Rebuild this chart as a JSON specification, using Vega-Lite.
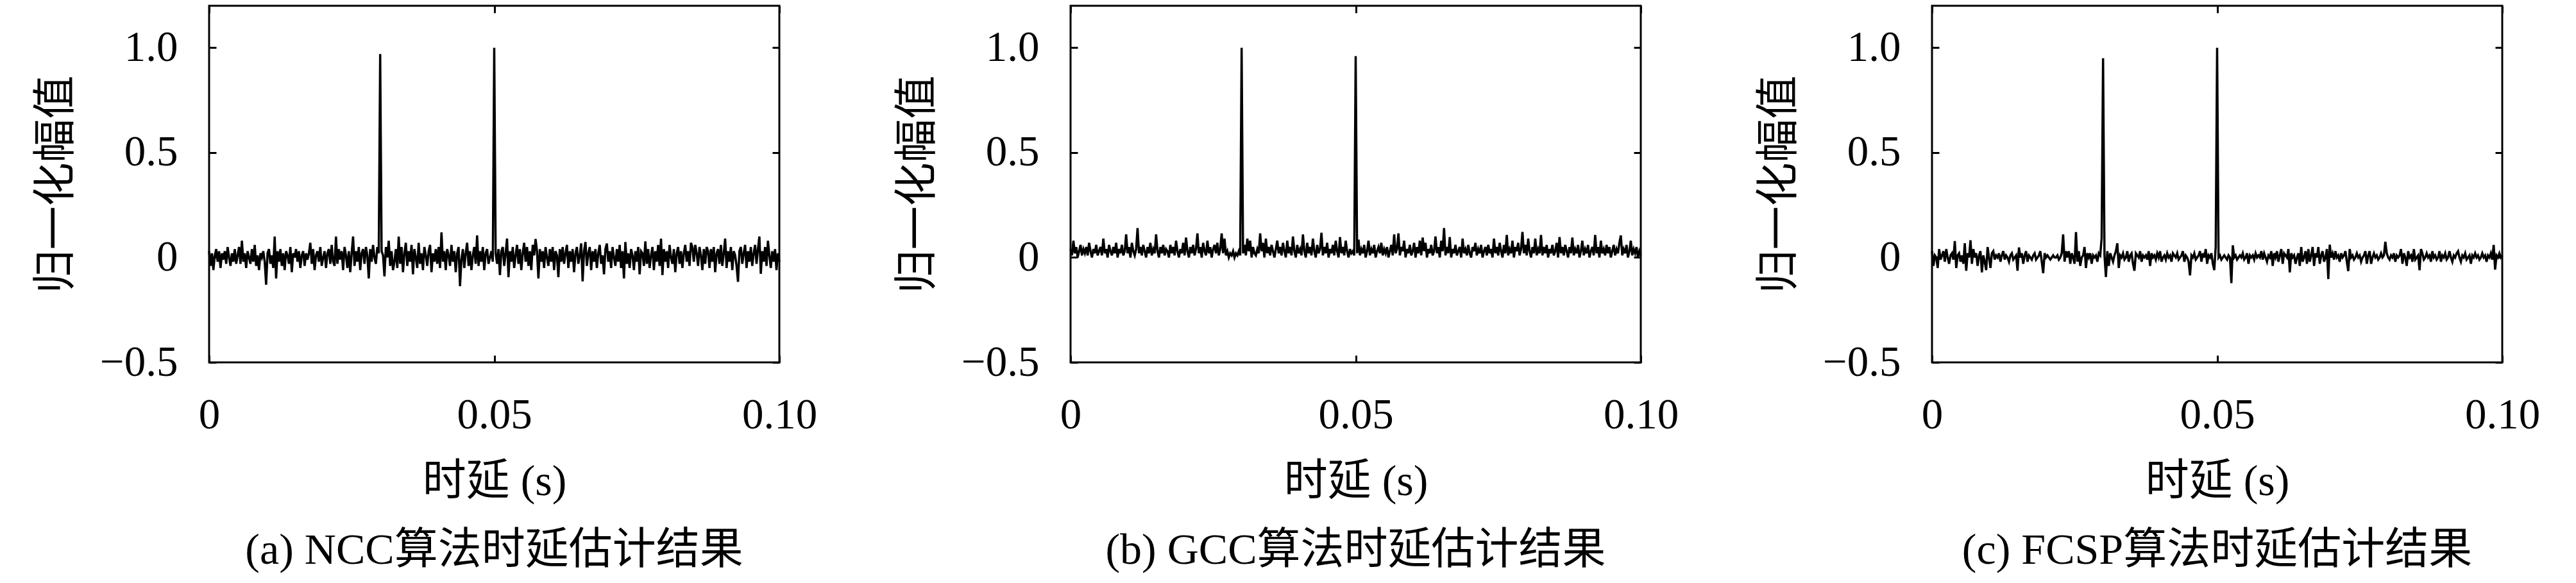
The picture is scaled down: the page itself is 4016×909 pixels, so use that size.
{"$schema":"https://vega.github.io/schema/vega-lite/v6.json","background":"white","padding":{"left":52,"top":6,"right":5,"bottom":0},"bounds":"flush","spacing":454,
"config":{"view":{"stroke":"black","strokeWidth":3},
"axis":{"domain":false,"grid":false,"ticks":true,"tickSize":-11,"tickWidth":3,"tickColor":"black","labelFont":"Liberation Serif","labelFontSize":67,"labelColor":"black","labelPadding":60,"labelFlush":false,"labelOverlap":false,"titleFont":"Liberation Serif, Noto Sans CJK SC","titleFontSize":68,"titleFontWeight":"normal","titleColor":"black"},
"title":{"font":"Liberation Serif, Noto Sans CJK SC","fontSize":68,"fontWeight":"normal","color":"black","orient":"bottom","offset":40,"anchor":"middle"}},
"data":{"values":[
{"t":0,"a":0.03,"b":0.04,"c":0.03},
{"t":0.00025,"a":-0.04,"b":0.01,"c":-0.04},
{"t":0.0005,"a":0.02,"b":0.08,"c":0.01},
{"t":0.00075,"a":-0.06,"b":0.02,"c":0},
{"t":0.001,"a":0.01,"b":0.05,"c":-0.05},
{"t":0.00125,"a":0.04,"b":0,"c":0.04},
{"t":0.0015,"a":-0.02,"b":0.03,"c":-0.01},
{"t":0.00175,"a":0.03,"b":0.06,"c":0.01},
{"t":0.002,"a":-0.05,"b":0.01,"c":0.03},
{"t":0.00225,"a":0.02,"b":0.04,"c":-0.02},
{"t":0.0025,"a":-0.01,"b":0.02,"c":0.04},
{"t":0.00275,"a":0.03,"b":0.05,"c":0},
{"t":0.003,"a":-0.03,"b":0.01,"c":-0.03},
{"t":0.00325,"a":0.05,"b":0.07,"c":0.01},
{"t":0.0035,"a":0,"b":0.03,"c":0.02},
{"t":0.00375,"a":-0.04,"b":0,"c":-0.01},
{"t":0.004,"a":0.02,"b":0.04,"c":0.078},
{"t":0.00425,"a":-0.02,"b":0.02,"c":-0.05},
{"t":0.0045,"a":0.04,"b":0.06,"c":0.01},
{"t":0.00475,"a":-0.03,"b":0.01,"c":0.02},
{"t":0.005,"a":0.01,"b":0.03,"c":-0.02},
{"t":0.00525,"a":0.05,"b":0.05,"c":0.01},
{"t":0.0055,"a":-0.03,"b":0.01,"c":-0.03},
{"t":0.00575,"a":0.08,"b":0.09,"c":0.068},
{"t":0.006,"a":-0.02,"b":0.02,"c":-0.063},
{"t":0.00625,"a":0.02,"b":0.04,"c":0.02},
{"t":0.0065,"a":-0.05,"b":0,"c":0},
{"t":0.00675,"a":0.03,"b":0.06,"c":0.082},
{"t":0.007,"a":0,"b":0.03,"c":-0.03},
{"t":0.00725,"a":-0.03,"b":0.01,"c":0.04},
{"t":0.0075,"a":0.04,"b":0.05,"c":0},
{"t":0.00775,"a":-0.02,"b":0.02,"c":0.02},
{"t":0.008,"a":0.06,"b":0.07,"c":-0.04},
{"t":0.00825,"a":-0.04,"b":0,"c":0.01},
{"t":0.0085,"a":0.01,"b":0.04,"c":0.03},
{"t":0.00875,"a":-0.06,"b":0.02,"c":-0.071},
{"t":0.009,"a":0.02,"b":0.06,"c":0.01},
{"t":0.00925,"a":0,"b":0.01,"c":-0.02},
{"t":0.0095,"a":0.03,"b":0.03,"c":-0.06},
{"t":0.00975,"a":-0.02,"b":0.11,"c":0.05},
{"t":0.01,"a":-0.13,"b":0.02,"c":0},
{"t":0.01025,"a":0.02,"b":0.05,"c":-0.05},
{"t":0.0105,"a":0.04,"b":0,"c":0.02},
{"t":0.01075,"a":-0.03,"b":0.07,"c":0.03},
{"t":0.011,"a":0.01,"b":0.03,"c":-0.01},
{"t":0.01125,"a":-0.05,"b":0.01,"c":0.01},
{"t":0.0115,"a":0.1,"b":0.04,"c":0},
{"t":0.01175,"a":-0.1,"b":0.14,"c":0.02},
{"t":0.012,"a":0.03,"b":0.02,"c":-0.02},
{"t":0.01225,"a":-0.02,"b":0.05,"c":0.01},
{"t":0.0125,"a":0.04,"b":0.01,"c":0.03},
{"t":0.01275,"a":-0.04,"b":0.06,"c":-0.01},
{"t":0.013,"a":0.02,"b":0.03,"c":0.01},
{"t":0.01325,"a":-0.06,"b":0,"c":0},
{"t":0.0135,"a":0.03,"b":0.05,"c":-0.02},
{"t":0.01375,"a":0.01,"b":0.02,"c":0.01},
{"t":0.014,"a":-0.03,"b":0.07,"c":0.02},
{"t":0.01425,"a":0.05,"b":0.01,"c":-0.01},
{"t":0.0145,"a":-0.07,"b":0.04,"c":0},
{"t":0.01475,"a":0.02,"b":0.02,"c":0.01},
{"t":0.015,"a":0,"b":0.11,"c":-0.063},
{"t":0.01525,"a":0.04,"b":0.03,"c":0.048},
{"t":0.0155,"a":-0.02,"b":0,"c":0},
{"t":0.01575,"a":0.03,"b":0.05,"c":0.02},
{"t":0.016,"a":-0.05,"b":0.02,"c":-0.03},
{"t":0.01625,"a":0.01,"b":0.06,"c":0.01},
{"t":0.0165,"a":0.03,"b":0.01,"c":0.03},
{"t":0.01675,"a":-0.04,"b":0.04,"c":-0.02},
{"t":0.017,"a":0.02,"b":0.03,"c":0.01},
{"t":0.01725,"a":-0.01,"b":0,"c":0},
{"t":0.0175,"a":0.02,"b":0.06,"c":-0.01},
{"t":0.01775,"a":0.07,"b":0.02,"c":0.01},
{"t":0.018,"a":-0.03,"b":0.05,"c":0.02},
{"t":0.01825,"a":0.04,"b":0.01,"c":-0.01},
{"t":0.0185,"a":-0.06,"b":0.08,"c":0},
{"t":0.01875,"a":0.01,"b":0.03,"c":0.01},
{"t":0.019,"a":0.03,"b":0,"c":0.03},
{"t":0.01925,"a":-0.02,"b":0.04,"c":-0.02},
{"t":0.0195,"a":0.05,"b":0.02,"c":-0.075},
{"t":0.01975,"a":-0.04,"b":0.07,"c":0.02},
{"t":0.02,"a":0,"b":0.01,"c":0},
{"t":0.02025,"a":0.03,"b":0.095,"c":0.01},
{"t":0.0205,"a":-0.05,"b":0.03,"c":0},
{"t":0.02075,"a":0.02,"b":0,"c":-0.01},
{"t":0.021,"a":0.04,"b":0.05,"c":0},
{"t":0.02125,"a":-0.03,"b":0.02,"c":0.01},
{"t":0.0215,"a":0.06,"b":0.06,"c":0},
{"t":0.02175,"a":-0.02,"b":0.01,"c":0},
{"t":0.022,"a":-0.04,"b":0.04,"c":0.01},
{"t":0.02225,"a":0.1,"b":0.115,"c":-0.01},
{"t":0.0225,"a":-0.03,"b":0.02,"c":0},
{"t":0.02275,"a":0.04,"b":0.05,"c":0.02},
{"t":0.023,"a":-0.01,"b":0,"c":0.11},
{"t":0.02325,"a":0.03,"b":0.07,"c":-0.02},
{"t":0.0235,"a":-0.06,"b":0.03,"c":0.03},
{"t":0.02375,"a":0.05,"b":0.01,"c":0},
{"t":0.024,"a":0.01,"b":0.08,"c":0.03},
{"t":0.02425,"a":-0.05,"b":0.02,"c":-0.03},
{"t":0.0245,"a":0.03,"b":0.05,"c":0.02},
{"t":0.02475,"a":-0.07,"b":0,"c":0},
{"t":0.025,"a":0.02,"b":0.04,"c":-0.03},
{"t":0.02525,"a":0.1,"b":0.06,"c":0.121},
{"t":0.0255,"a":-0.04,"b":0.02,"c":-0.02},
{"t":0.02575,"a":0.03,"b":0.07,"c":0.03},
{"t":0.026,"a":-0.02,"b":0.01,"c":-0.04},
{"t":0.02625,"a":0.05,"b":0.04,"c":0},
{"t":0.0265,"a":-0.06,"b":0.115,"c":0.01},
{"t":0.02675,"a":0.02,"b":0.02,"c":0.05},
{"t":0.027,"a":0.04,"b":0.09,"c":-0.05},
{"t":0.02725,"a":-0.03,"b":0.01,"c":0.02},
{"t":0.0275,"a":0.05,"b":0.03,"c":0},
{"t":0.02775,"a":0.01,"b":0,"c":0.02},
{"t":0.028,"a":-0.1,"b":0.02,"c":-0.03},
{"t":0.02825,"a":0.04,"b":0.01,"c":0.01},
{"t":0.0285,"a":-0.02,"b":0.03,"c":0},
{"t":0.02875,"a":0.06,"b":0,"c":0.01},
{"t":0.029,"a":0,"b":0.02,"c":-0.02},
{"t":0.02925,"a":-0.03,"b":0.01,"c":0.02},
{"t":0.0295,"a":0.05,"b":0.03,"c":0.01},
{"t":0.02975,"a":0.02,"b":0.01,"c":0.092},
{"t":0.03,"a":0.97,"b":1,"c":0.95},
{"t":0.03025,"a":0.03,"b":0.02,"c":0.01},
{"t":0.0305,"a":0.01,"b":0.06,"c":-0.093},
{"t":0.03075,"a":-0.09,"b":0.01,"c":0.03},
{"t":0.031,"a":0.05,"b":0.09,"c":-0.04},
{"t":0.03125,"a":0,"b":0.03,"c":0.02},
{"t":0.0315,"a":0.08,"b":0.08,"c":0},
{"t":0.03175,"a":-0.04,"b":0,"c":-0.02},
{"t":0.032,"a":0.03,"b":0.05,"c":0.01},
{"t":0.03225,"a":-0.06,"b":0.02,"c":0.03},
{"t":0.0325,"a":-0.02,"b":0.01,"c":0.068},
{"t":0.03275,"a":0.04,"b":0.04,"c":-0.05},
{"t":0.033,"a":-0.05,"b":0.02,"c":0.01},
{"t":0.03325,"a":0.1,"b":0.115,"c":0},
{"t":0.0335,"a":-0.03,"b":0.03,"c":0.02},
{"t":0.03375,"a":0.05,"b":0.07,"c":-0.01},
{"t":0.034,"a":-0.07,"b":0,"c":0},
{"t":0.03425,"a":0.02,"b":0.09,"c":0.03},
{"t":0.0345,"a":0.07,"b":0.02,"c":-0.02},
{"t":0.03475,"a":-0.04,"b":0.05,"c":0.01},
{"t":0.035,"a":0.03,"b":0.01,"c":0.02},
{"t":0.03525,"a":-0.02,"b":0.06,"c":-0.03},
{"t":0.0355,"a":0.06,"b":0.03,"c":-0.063},
{"t":0.03575,"a":-0.08,"b":0,"c":0.02},
{"t":0.036,"a":0.04,"b":0.04,"c":0.01},
{"t":0.03625,"a":0,"b":0.08,"c":0},
{"t":0.0365,"a":-0.05,"b":0.02,"c":0.03},
{"t":0.03675,"a":0.07,"b":0.05,"c":-0.02},
{"t":0.037,"a":-0.03,"b":0.01,"c":0.01},
{"t":0.03725,"a":0.02,"b":0.07,"c":0},
{"t":0.0375,"a":-0.06,"b":0.03,"c":0.01},
{"t":0.03775,"a":0.05,"b":0,"c":-0.01},
{"t":0.038,"a":0.01,"b":0.08,"c":0.03},
{"t":0.03825,"a":-0.04,"b":0.02,"c":-0.04},
{"t":0.0385,"a":0.03,"b":0.05,"c":0.02},
{"t":0.03875,"a":0.06,"b":0.01,"c":0},
{"t":0.039,"a":-0.07,"b":0.1,"c":0.01},
{"t":0.03925,"a":0.02,"b":0.03,"c":-0.01},
{"t":0.0395,"a":-0.02,"b":0,"c":0.02},
{"t":0.03975,"a":0.04,"b":0.06,"c":0},
{"t":0.04,"a":-0.03,"b":0.02,"c":0.03},
{"t":0.04025,"a":0.05,"b":0.04,"c":-0.02},
{"t":0.0405,"a":-0.05,"b":0.01,"c":0},
{"t":0.04075,"a":0.12,"b":0.11,"c":0.01},
{"t":0.041,"a":-0.02,"b":0.03,"c":-0.01},
{"t":0.04125,"a":0.03,"b":0,"c":0.02},
{"t":0.0415,"a":-0.06,"b":0.07,"c":0},
{"t":0.04175,"a":0.04,"b":0.02,"c":0.01},
{"t":0.042,"a":0.01,"b":0.05,"c":-0.02},
{"t":0.04225,"a":-0.04,"b":0.01,"c":0.02},
{"t":0.0425,"a":0.06,"b":0.09,"c":0.01},
{"t":0.04275,"a":-0.02,"b":0.03,"c":0},
{"t":0.043,"a":0.03,"b":0,"c":0.02},
{"t":0.04325,"a":-0.07,"b":0.06,"c":-0.01},
{"t":0.0435,"a":0.02,"b":0.02,"c":0},
{"t":0.04375,"a":0.05,"b":0.04,"c":0.01},
{"t":0.044,"a":-0.137,"b":0.118,"c":0.03},
{"t":0.04425,"a":-0.01,"b":0.01,"c":-0.02},
{"t":0.0445,"a":0.04,"b":0.05,"c":0.01},
{"t":0.04475,"a":-0.05,"b":0.02,"c":0},
{"t":0.045,"a":0.02,"b":0.07,"c":-0.02},
{"t":0.04525,"a":0.07,"b":0,"c":-0.085},
{"t":0.0455,"a":-0.04,"b":0.04,"c":0.01},
{"t":0.04575,"a":0.03,"b":0.02,"c":0},
{"t":0.046,"a":-0.06,"b":0.06,"c":0.02},
{"t":0.04625,"a":0.01,"b":0.01,"c":-0.01},
{"t":0.0465,"a":0.05,"b":0.08,"c":0},
{"t":0.04675,"a":-0.03,"b":0.03,"c":0.01},
{"t":0.047,"a":0.105,"b":0,"c":0.03},
{"t":0.04725,"a":-0.04,"b":0.097,"c":-0.02},
{"t":0.0475,"a":0.03,"b":0.02,"c":0.02},
{"t":0.04775,"a":-0.02,"b":0.05,"c":0},
{"t":0.048,"a":0.05,"b":0.01,"c":0.04},
{"t":0.04825,"a":-0.06,"b":0.08,"c":-0.03},
{"t":0.0485,"a":0.02,"b":0.03,"c":0.01},
{"t":0.04875,"a":0.04,"b":0,"c":0},
{"t":0.049,"a":-0.03,"b":0.04,"c":0.02},
{"t":0.04925,"a":0,"b":0.02,"c":-0.03},
{"t":0.0495,"a":0.03,"b":0.03,"c":-0.06},
{"t":0.04975,"a":-0.02,"b":0.01,"c":0.05},
{"t":0.05,"a":1,"b":0.96,"c":1},
{"t":0.05025,"a":0.02,"b":0.02,"c":0},
{"t":0.0505,"a":-0.03,"b":0.085,"c":0.01},
{"t":0.05075,"a":0.04,"b":0.01,"c":-0.01},
{"t":0.051,"a":-0.084,"b":0.04,"c":0},
{"t":0.05125,"a":0.03,"b":0.02,"c":0.01},
{"t":0.0515,"a":0.05,"b":0.06,"c":0},
{"t":0.05175,"a":-0.04,"b":0,"c":-0.01},
{"t":0.052,"a":0.02,"b":0.03,"c":0.01},
{"t":0.05225,"a":0.09,"b":0.08,"c":0},
{"t":0.0525,"a":-0.094,"b":0.01,"c":-0.122},
{"t":0.05275,"a":0.03,"b":0.04,"c":0.058},
{"t":0.053,"a":-0.02,"b":0.02,"c":0},
{"t":0.05325,"a":0.05,"b":0.06,"c":0.01},
{"t":0.0535,"a":-0.05,"b":0,"c":-0.01},
{"t":0.05375,"a":0.01,"b":0.03,"c":0},
{"t":0.054,"a":0.06,"b":0.05,"c":0.01},
{"t":0.05425,"a":-0.03,"b":0.02,"c":0},
{"t":0.0545,"a":0.04,"b":0.07,"c":0.02},
{"t":0.05475,"a":-0.06,"b":0.01,"c":-0.01},
{"t":0.055,"a":0.02,"b":0.04,"c":0},
{"t":0.05525,"a":0.07,"b":0.02,"c":0.02},
{"t":0.0555,"a":-0.02,"b":0.05,"c":-0.03},
{"t":0.05575,"a":0.05,"b":0,"c":0.01},
{"t":0.056,"a":-0.04,"b":0.03,"c":0},
{"t":0.05625,"a":0.03,"b":0.06,"c":0.01},
{"t":0.0565,"a":-0.06,"b":0.01,"c":-0.01},
{"t":0.05675,"a":0.06,"b":0.11,"c":0.02},
{"t":0.057,"a":0.01,"b":0.02,"c":0},
{"t":0.05725,"a":0.088,"b":0.04,"c":0.01},
{"t":0.0575,"a":0.03,"b":0.115,"c":0},
{"t":0.05775,"a":-0.1,"b":0.01,"c":0.03},
{"t":0.058,"a":0.04,"b":0.05,"c":-0.01},
{"t":0.05825,"a":-0.02,"b":0.03,"c":0.02},
{"t":0.0585,"a":0.03,"b":0.08,"c":0},
{"t":0.05875,"a":-0.05,"b":0,"c":-0.02},
{"t":0.059,"a":0.05,"b":0.04,"c":0.01},
{"t":0.05925,"a":0,"b":0.02,"c":0},
{"t":0.0595,"a":-0.04,"b":0.06,"c":0.03},
{"t":0.05975,"a":0.04,"b":0.01,"c":-0.04},
{"t":0.06,"a":-0.02,"b":0.03,"c":0.02},
{"t":0.06025,"a":0.05,"b":0.07,"c":0},
{"t":0.0605,"a":-0.06,"b":0,"c":0.03},
{"t":0.06075,"a":0.03,"b":0.05,"c":-0.02},
{"t":0.061,"a":0.01,"b":0.02,"c":0.01},
{"t":0.06125,"a":-0.094,"b":0.08,"c":0.04},
{"t":0.0615,"a":0.04,"b":0.01,"c":-0.03},
{"t":0.06175,"a":-0.02,"b":0.095,"c":0.02},
{"t":0.062,"a":0.05,"b":0.03,"c":0.01},
{"t":0.06225,"a":-0.03,"b":0.07,"c":0},
{"t":0.0625,"a":0.02,"b":0,"c":0.04},
{"t":0.06275,"a":0.06,"b":0.04,"c":-0.071},
{"t":0.063,"a":-0.05,"b":0.02,"c":0.02},
{"t":0.06325,"a":0.03,"b":0.06,"c":0},
{"t":0.0635,"a":-0.02,"b":0.01,"c":0.01},
{"t":0.06375,"a":0.04,"b":0.03,"c":-0.03},
{"t":0.064,"a":-0.07,"b":0.1,"c":0},
{"t":0.06425,"a":0.02,"b":0.02,"c":0.02},
{"t":0.0645,"a":0.05,"b":0.05,"c":-0.04},
{"t":0.06475,"a":-0.03,"b":0,"c":0.05},
{"t":0.065,"a":0.01,"b":0.08,"c":-0.02},
{"t":0.06525,"a":0.067,"b":0.03,"c":0},
{"t":0.0655,"a":-0.114,"b":0.14,"c":0.03},
{"t":0.06575,"a":0.03,"b":0.01,"c":-0.03},
{"t":0.066,"a":0.074,"b":0.05,"c":0.04},
{"t":0.06625,"a":-0.04,"b":0.02,"c":-0.02},
{"t":0.0665,"a":0.02,"b":0.097,"c":0.01},
{"t":0.06675,"a":0.05,"b":0,"c":0.05},
{"t":0.067,"a":-0.06,"b":0.04,"c":-0.04},
{"t":0.06725,"a":0.03,"b":0.02,"c":0.02},
{"t":0.0675,"a":-0.02,"b":0.06,"c":0},
{"t":0.06775,"a":0.04,"b":0.01,"c":0.05},
{"t":0.068,"a":-0.05,"b":0.03,"c":-0.03},
{"t":0.06825,"a":0.02,"b":0.05,"c":0.01},
{"t":0.0685,"a":0.06,"b":0,"c":0.03},
{"t":0.06875,"a":-0.03,"b":0.09,"c":-0.02},
{"t":0.069,"a":0.01,"b":0.02,"c":0},
{"t":0.06925,"a":-0.08,"b":0.04,"c":0.04},
{"t":0.0695,"a":0.04,"b":0.01,"c":-0.103},
{"t":0.06975,"a":0.067,"b":0.06,"c":0.061},
{"t":0.07,"a":-0.02,"b":0.02,"c":0},
{"t":0.07025,"a":0.03,"b":0,"c":0.02},
{"t":0.0705,"a":-0.05,"b":0.05,"c":-0.01},
{"t":0.07075,"a":0.05,"b":0.03,"c":0.03},
{"t":0.071,"a":0,"b":0.07,"c":0},
{"t":0.07125,"a":-0.04,"b":0.01,"c":0.01},
{"t":0.0715,"a":0.04,"b":0.04,"c":-0.02},
{"t":0.07175,"a":-0.02,"b":0.02,"c":0.02},
{"t":0.072,"a":0.06,"b":0.06,"c":0},
{"t":0.07225,"a":-0.05,"b":0,"c":0.01},
{"t":0.0725,"a":0.03,"b":0.03,"c":0.03},
{"t":0.07275,"a":-0.1,"b":0.05,"c":-0.02},
{"t":0.073,"a":0.074,"b":0.01,"c":-0.065},
{"t":0.07325,"a":-0.03,"b":0.06,"c":0.04},
{"t":0.0735,"a":0.02,"b":0.02,"c":0},
{"t":0.07375,"a":-0.05,"b":0.04,"c":0.01},
{"t":0.074,"a":0.04,"b":0,"c":-0.01},
{"t":0.07425,"a":0.01,"b":0.09,"c":0},
{"t":0.0745,"a":-0.06,"b":0.02,"c":0.02},
{"t":0.07475,"a":0.03,"b":0.05,"c":0},
{"t":0.075,"a":-0.02,"b":0.01,"c":0.01},
{"t":0.07525,"a":0.05,"b":0.07,"c":-0.02},
{"t":0.0755,"a":-0.08,"b":0.03,"c":0},
{"t":0.07575,"a":0.03,"b":0,"c":0.01},
{"t":0.076,"a":0.02,"b":0.06,"c":0.03},
{"t":0.07625,"a":-0.04,"b":0.02,"c":-0.03},
{"t":0.0765,"a":0.077,"b":0.107,"c":0.01},
{"t":0.07675,"a":-0.03,"b":0.01,"c":0.03},
{"t":0.077,"a":0.04,"b":0.04,"c":-0.03},
{"t":0.07725,"a":-0.05,"b":0.02,"c":0},
{"t":0.0775,"a":0.01,"b":0.08,"c":0.02},
{"t":0.07775,"a":0.05,"b":0,"c":0},
{"t":0.078,"a":-0.06,"b":0.05,"c":0.01},
{"t":0.07825,"a":0.03,"b":0.03,"c":-0.01},
{"t":0.0785,"a":-0.02,"b":0.07,"c":0},
{"t":0.07875,"a":0.06,"b":0.01,"c":0.02},
{"t":0.079,"a":-0.04,"b":0.04,"c":0},
{"t":0.07925,"a":0.09,"b":0.122,"c":0.01},
{"t":0.0795,"a":-0.084,"b":0.02,"c":0.075},
{"t":0.07975,"a":0.04,"b":0.06,"c":0.02},
{"t":0.08,"a":-0.02,"b":0.01,"c":0},
{"t":0.08025,"a":0.03,"b":0.09,"c":-0.01},
{"t":0.0805,"a":-0.05,"b":0.03,"c":0.01},
{"t":0.08075,"a":0.06,"b":0,"c":0},
{"t":0.081,"a":0,"b":0.05,"c":0.02},
{"t":0.08125,"a":-0.03,"b":0.02,"c":-0.02},
{"t":0.0815,"a":0.04,"b":0.09,"c":0.01},
{"t":0.08175,"a":-0.07,"b":0.01,"c":0},
{"t":0.082,"a":0.02,"b":0.04,"c":0.01},
{"t":0.08225,"a":0.05,"b":0.02,"c":0.04},
{"t":0.0825,"a":-0.03,"b":0.107,"c":-0.03},
{"t":0.08275,"a":0.03,"b":0.01,"c":0.02},
{"t":0.083,"a":-0.05,"b":0.05,"c":0},
{"t":0.08325,"a":0.02,"b":0.02,"c":-0.04},
{"t":0.0835,"a":0.06,"b":0.06,"c":0.03},
{"t":0.08375,"a":-0.02,"b":0,"c":0},
{"t":0.084,"a":0.03,"b":0.04,"c":0.01},
{"t":0.08425,"a":-0.04,"b":0.02,"c":-0.02},
{"t":0.0845,"a":0.07,"b":0.06,"c":0.04},
{"t":0.08475,"a":0.05,"b":0.01,"c":-0.01},
{"t":0.085,"a":-0.02,"b":0.03,"c":0},
{"t":0.08525,"a":0.06,"b":0.07,"c":0.01},
{"t":0.0855,"a":0.02,"b":0,"c":-0.061},
{"t":0.08575,"a":-0.04,"b":0.097,"c":0.04},
{"t":0.086,"a":0.05,"b":0.02,"c":0.02},
{"t":0.08625,"a":0.01,"b":0.05,"c":-0.01},
{"t":0.0865,"a":-0.06,"b":0.01,"c":0},
{"t":0.08675,"a":0.04,"b":0.06,"c":0.02},
{"t":0.087,"a":-0.03,"b":0.03,"c":0},
{"t":0.08725,"a":0.05,"b":0,"c":0.01},
{"t":0.0875,"a":0.03,"b":0.05,"c":-0.02},
{"t":0.08775,"a":-0.05,"b":0.02,"c":0.03},
{"t":0.088,"a":0.04,"b":0.095,"c":0},
{"t":0.08825,"a":-0.02,"b":0.01,"c":0.01},
{"t":0.0885,"a":0.05,"b":0.04,"c":-0.01},
{"t":0.08875,"a":-0.07,"b":0.02,"c":0},
{"t":0.089,"a":0.02,"b":0.06,"c":0.03},
{"t":0.08925,"a":0.04,"b":0,"c":-0.02},
{"t":0.0895,"a":-0.03,"b":0.03,"c":0.01},
{"t":0.08975,"a":0.06,"b":0.08,"c":0},
{"t":0.09,"a":-0.04,"b":0.01,"c":0.02},
{"t":0.09025,"a":0.02,"b":0.04,"c":-0.01},
{"t":0.0905,"a":0.09,"b":0.02,"c":0},
{"t":0.09075,"a":-0.05,"b":0.06,"c":0.03},
{"t":0.091,"a":0.03,"b":0,"c":0},
{"t":0.09125,"a":-0.02,"b":0.03,"c":-0.02},
{"t":0.0915,"a":0.05,"b":0.05,"c":0.01},
{"t":0.09175,"a":-0.06,"b":0.01,"c":0},
{"t":0.092,"a":0.03,"b":0.107,"c":0.02},
{"t":0.09225,"a":0.01,"b":0.02,"c":0.03},
{"t":0.0925,"a":-0.04,"b":0.05,"c":0},
{"t":0.09275,"a":-0.116,"b":0,"c":-0.02},
{"t":0.093,"a":0.03,"b":0.08,"c":0.01},
{"t":0.09325,"a":0.05,"b":0.02,"c":0},
{"t":0.0935,"a":-0.03,"b":0.04,"c":0.02},
{"t":0.09375,"a":0.02,"b":0.01,"c":-0.01},
{"t":0.094,"a":0.06,"b":0.06,"c":0},
{"t":0.09425,"a":-0.05,"b":0.02,"c":0.01},
{"t":0.0945,"a":0.03,"b":0.05,"c":-0.03},
{"t":0.09475,"a":-0.02,"b":0,"c":0.01},
{"t":0.095,"a":0.05,"b":0.03,"c":0},
{"t":0.09525,"a":-0.04,"b":0.06,"c":0.02},
{"t":0.0955,"a":0.02,"b":0.01,"c":0},
{"t":0.09575,"a":0.06,"b":0.04,"c":0.01},
{"t":0.096,"a":-0.03,"b":0.02,"c":-0.01},
{"t":0.09625,"a":0.04,"b":0.07,"c":0},
{"t":0.0965,"a":0.1,"b":0.105,"c":0.02},
{"t":0.09675,"a":-0.078,"b":0.01,"c":0},
{"t":0.097,"a":0.03,"b":0.04,"c":0.01},
{"t":0.09725,"a":-0.02,"b":0.02,"c":-0.02},
{"t":0.0975,"a":0.05,"b":0.06,"c":0.01},
{"t":0.09775,"a":-0.04,"b":0,"c":0},
{"t":0.098,"a":0.08,"b":0.03,"c":0.02},
{"t":0.09825,"a":0.01,"b":0.08,"c":-0.01},
{"t":0.0985,"a":-0.05,"b":0.01,"c":0.06},
{"t":0.09875,"a":0.03,"b":0.04,"c":-0.058},
{"t":0.099,"a":-0.02,"b":0.02,"c":0.01},
{"t":0.09925,"a":0.04,"b":0.05,"c":0},
{"t":0.0995,"a":-0.06,"b":0,"c":0.02},
{"t":0.09975,"a":0.02,"b":0.03,"c":0},
{"t":0.1,"a":-0.02,"b":0.01,"c":0.01}
]},
"hconcat":[
{"width":889,"height":556,"title":"(a) NCC算法时延估计结果",
"layer":[
{"mark":{"type":"line","color":"black","strokeWidth":3.5},
"encoding":{
"x":{"field":"t","type":"quantitative","scale":{"domain":[0,0.1],"nice":false,"zero":false},"axis":{"orient":"bottom","values":[0,0.05,0.1],"labelExpr":"datum.value == 0 ? '0' : format(datum.value, '.2f')","title":"时延 (s)","titleBaseline":"top","titleY":152}},
"y":{"field":"a","type":"quantitative","scale":{"domain":[-0.5,1.2],"nice":false,"zero":false},"axis":{"orient":"left","values":[-0.5,0,0.5,1],"labelExpr":"datum.value == 0 ? '0' : format(datum.value, '.1f')","title":"归一化幅值","titleBaseline":"middle","titleX":-238}}}},
{"mark":{"type":"line","opacity":0},
"encoding":{
"x":{"field":"t","type":"quantitative","axis":{"orient":"top","values":[0,0.05,0.1],"labels":false,"title":null}},
"y":{"field":"a","type":"quantitative","axis":{"orient":"right","values":[-0.5,0,0.5,1],"labels":false,"title":null}}}}
],
"resolve":{"axis":{"x":"independent","y":"independent"}}},
{"width":889,"height":556,"title":"(b) GCC算法时延估计结果",
"layer":[
{"mark":{"type":"line","color":"black","strokeWidth":3.5},
"encoding":{
"x":{"field":"t","type":"quantitative","scale":{"domain":[0,0.1],"nice":false,"zero":false},"axis":{"orient":"bottom","values":[0,0.05,0.1],"labelExpr":"datum.value == 0 ? '0' : format(datum.value, '.2f')","title":"时延 (s)","titleBaseline":"top","titleY":152}},
"y":{"field":"b","type":"quantitative","scale":{"domain":[-0.5,1.2],"nice":false,"zero":false},"axis":{"orient":"left","values":[-0.5,0,0.5,1],"labelExpr":"datum.value == 0 ? '0' : format(datum.value, '.1f')","title":"归一化幅值","titleBaseline":"middle","titleX":-238}}}},
{"mark":{"type":"line","opacity":0},
"encoding":{
"x":{"field":"t","type":"quantitative","axis":{"orient":"top","values":[0,0.05,0.1],"labels":false,"title":null}},
"y":{"field":"b","type":"quantitative","axis":{"orient":"right","values":[-0.5,0,0.5,1],"labels":false,"title":null}}}}
],
"resolve":{"axis":{"x":"independent","y":"independent"}}},
{"width":889,"height":556,"title":"(c) FCSP算法时延估计结果",
"layer":[
{"mark":{"type":"line","color":"black","strokeWidth":3.5},
"encoding":{
"x":{"field":"t","type":"quantitative","scale":{"domain":[0,0.1],"nice":false,"zero":false},"axis":{"orient":"bottom","values":[0,0.05,0.1],"labelExpr":"datum.value == 0 ? '0' : format(datum.value, '.2f')","title":"时延 (s)","titleBaseline":"top","titleY":152}},
"y":{"field":"c","type":"quantitative","scale":{"domain":[-0.5,1.2],"nice":false,"zero":false},"axis":{"orient":"left","values":[-0.5,0,0.5,1],"labelExpr":"datum.value == 0 ? '0' : format(datum.value, '.1f')","title":"归一化幅值","titleBaseline":"middle","titleX":-238}}}},
{"mark":{"type":"line","opacity":0},
"encoding":{
"x":{"field":"t","type":"quantitative","axis":{"orient":"top","values":[0,0.05,0.1],"labels":false,"title":null}},
"y":{"field":"c","type":"quantitative","axis":{"orient":"right","values":[-0.5,0,0.5,1],"labels":false,"title":null}}}}
],
"resolve":{"axis":{"x":"independent","y":"independent"}}}
]}
